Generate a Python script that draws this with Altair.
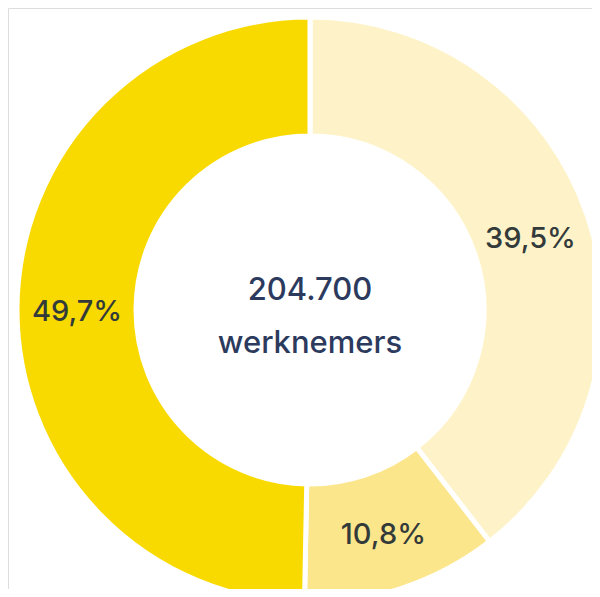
import altair as alt
import pandas as pd

categories = ["A", "B", "C"]
shares = [39.5, 10.8, 49.7]
labels = ["39,5%", "10,8%", "49,7%"]
colors = ["#FEF3C8", "#FCE68C", "#F8DA00"]
order = [1, 2, 3]

center_lines = ["204.700", "werknemers"]
center_y = [283, 336]

df = pd.DataFrame({"cat": categories, "share": shares, "label": labels, "order": order})
cdf = pd.DataFrame({"line": center_lines, "ypos": center_y})

CX, CY = 302, 302

base = alt.Chart(df).encode(
    theta=alt.Theta("share:Q", stack=True),
    order=alt.Order("order:Q"),
)

arcs = base.mark_arc(
    x=CX, y=CY, outerRadius=293, innerRadius=174,
    stroke="white", strokeWidth=5,
).encode(
    color=alt.Color("cat:N", scale=alt.Scale(domain=categories, range=colors), legend=None),
)

texts = base.mark_text(
    x=CX, y=CY, radius=233, dy=4, fontSize=29, font="Inter", fontWeight=500,
    color="#333a3a", align="center", baseline="middle",
).encode(text="label:N")

center = alt.Chart(cdf).mark_text(
    fontSize=31, font="Inter", fontWeight=500, color="#2c3a5e",
    align="center", baseline="middle",
).encode(
    x=alt.value(CX),
    y=alt.Y("ypos:Q", scale=None),
    text="line:N",
)

chart = alt.layer(arcs, texts, center).properties(
    width=584, height=581, padding=0, autosize=alt.AutoSizeParams(type="none")
).configure_view(stroke="transparent", strokeWidth=0).configure(background="white")

chart.save("out.html", embed_options={"renderer": "svg", "actions": False})
